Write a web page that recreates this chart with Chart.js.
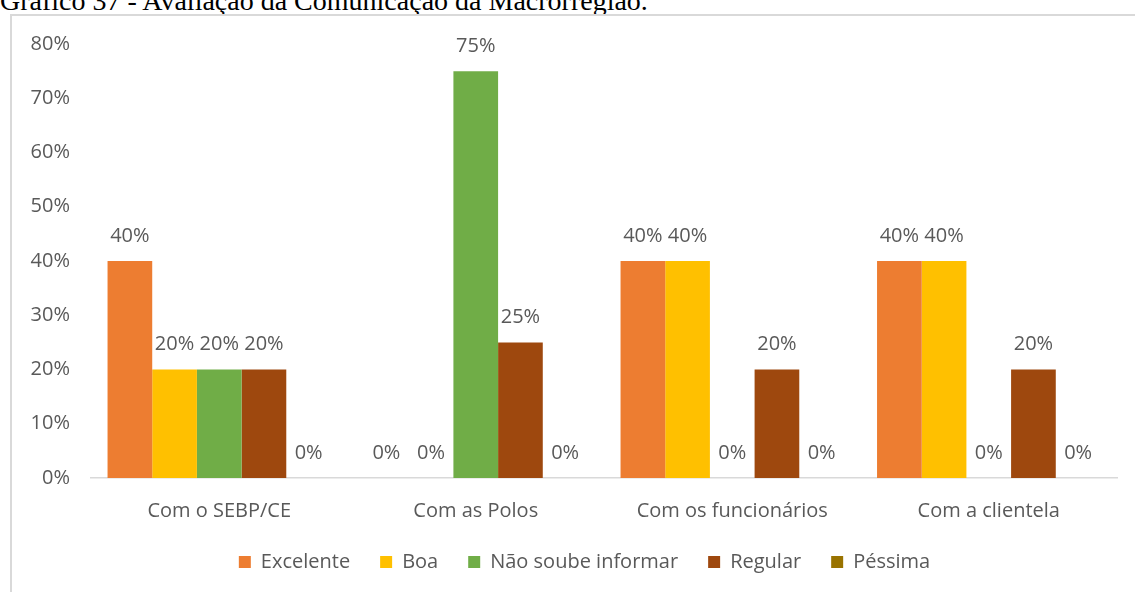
<!DOCTYPE html>
<html>
<head>
    <meta charset="utf-8">
    <script src="https://cdn.jsdelivr.net/npm/chart.js@4.4.0/dist/chart.umd.min.js"></script>
    <style>
        html, body {
            margin: 0;
            padding: 0;
            width: 1135px;
            height: 592px;
            overflow: hidden;
            background: #fff;
        }
        #title {
            position: absolute;
            left: 0;
            top: -13px;
            font-family: "Liberation Serif", "Times New Roman", serif;
            font-size: 28px;
            line-height: 1;
            color: #000;
            white-space: nowrap;
        }
        #chart-box {
            position: absolute;
            left: 10px;
            top: 14px;
            width: 1125px;
            height: 590px;
            border: 2px solid #d9d9d9;
        }
    </style>
</head>
<body>
    <div id="title">Gráfico 37 - Avaliação da Comunicação da Macrorregião.</div>
    <div id="chart-box">
        <canvas id="avaliacao"></canvas>
    </div>
    <script>
        const categorias = ["Com o SEBP/CE", "Com as Polos", "Com os funcionários", "Com a clientela"];
        const excelente = [40, 0, 40, 40];
        const boa = [20, 0, 40, 40];
        const naoSoube = [20, 75, 0, 0];
        const regular = [20, 25, 20, 20];
        const pessima = [0, 0, 0, 0];
        const yTicks = [0, 10, 20, 30, 40, 50, 60, 70, 80];

        const textColor = '#595959';
        const fontFamily = '"Open Sans", "Liberation Sans", sans-serif';

        // value labels above every bar, zeros included
        const valueLabels = {
            id: 'valueLabels',
            afterDatasetsDraw(chart) {
                const ctx = chart.ctx;
                ctx.save();
                ctx.font = '20px ' + fontFamily;
                ctx.fillStyle = textColor;
                ctx.textAlign = 'center';
                ctx.textBaseline = 'middle';
                chart.data.datasets.forEach((ds, i) => {
                    const meta = chart.getDatasetMeta(i);
                    meta.data.forEach((bar, j) => {
                        ctx.fillText(ds.data[j] + '%', bar.x, bar.y - 25);
                    });
                });
                ctx.restore();
            }
        };

        // the legend sits a little right of the canvas centre
        const legendShift = {
            id: 'legendShift',
            afterLayout(chart) {
                chart.legend.left += 20;
                chart.legend.right += 20;
            }
        };

        const ctx = document.getElementById('avaliacao').getContext('2d');
        new Chart(ctx, {
            type: 'bar',
            data: {
                labels: categorias,
                datasets: [
                    { label: 'Excelente', data: excelente, backgroundColor: '#ED7D31' },
                    { label: 'Boa', data: boa, backgroundColor: '#FFC000' },
                    { label: 'Não soube informar', data: naoSoube, backgroundColor: '#70AD47' },
                    { label: 'Regular', data: regular, backgroundColor: '#9E480E' },
                    { label: 'Péssima', data: pessima, backgroundColor: '#997300' }
                ]
            },
            options: {
                responsive: true,
                maintainAspectRatio: false,
                animation: false,
                layout: {
                    padding: { top: 28, right: 20, bottom: 24, left: 0 }
                },
                datasets: {
                    bar: {
                        categoryPercentage: 0.871,
                        barPercentage: 1.0
                    }
                },
                scales: {
                    x: {
                        grid: { display: false, drawTicks: false },
                        border: { color: '#d9d9d9', width: 1.5 },
                        ticks: {
                            color: textColor,
                            font: { family: fontFamily, size: 20 },
                            padding: 21
                        },
                        afterFit(scale) { scale.height = 44; }
                    },
                    y: {
                        min: 0,
                        max: 80,
                        afterBuildTicks(scale) {
                            scale.ticks = yTicks.map(v => ({ value: v }));
                        },
                        grid: { display: false, drawTicks: false },
                        border: { display: false },
                        ticks: {
                            color: textColor,
                            font: { family: fontFamily, size: 20 },
                            padding: 21,
                            callback: v => v + '%'
                        },
                        afterFit(scale) {
                            scale.width = 79;
                            scale.paddingTop = 0;
                            scale.paddingBottom = 0;
                        }
                    }
                },
                plugins: {
                    legend: {
                        position: 'bottom',
                        labels: {
                            color: textColor,
                            font: { family: fontFamily, size: 20 },
                            boxWidth: 12,
                            boxHeight: 12,
                            padding: 30
                        }
                    },
                    tooltip: { enabled: false }
                }
            },
            plugins: [valueLabels, legendShift]
        });
    </script>
</body>
</html>
